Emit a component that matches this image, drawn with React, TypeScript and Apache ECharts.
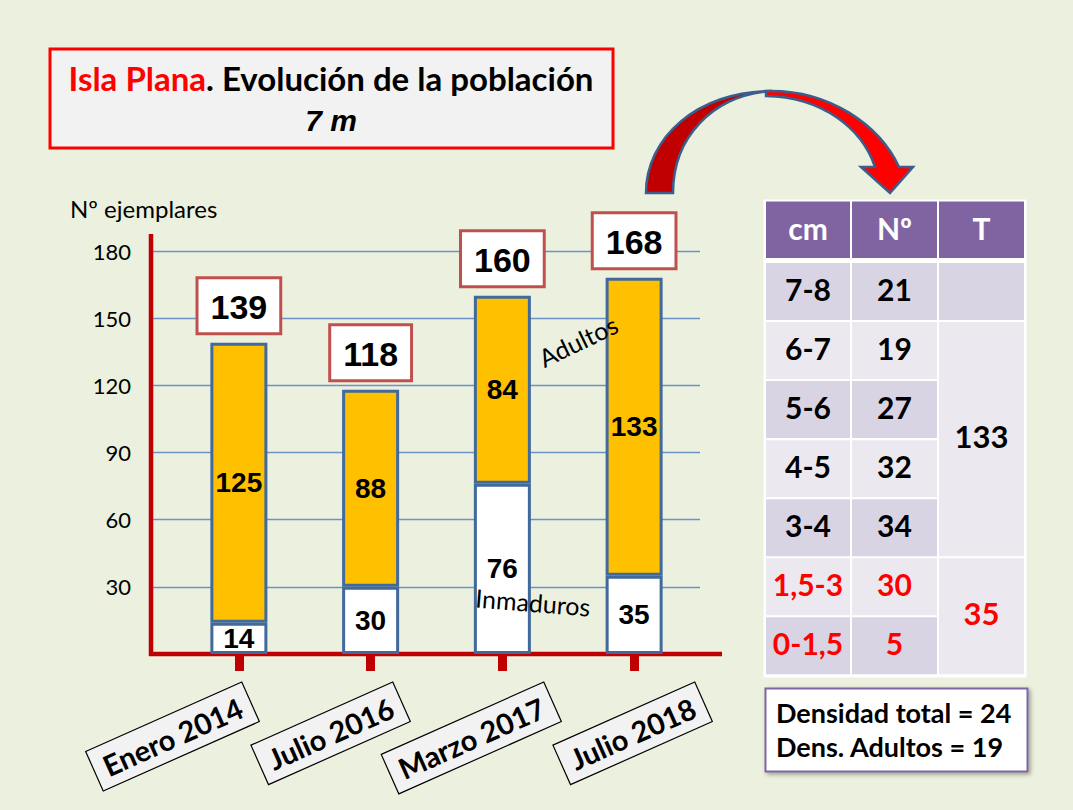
import React, { useEffect, useRef } from "react";
import * as echarts from "echarts";

// ---- Chart data ----
const categories = ["Enero 2014", "Julio 2016", "Marzo 2017", "Julio 2018"];
const immatureValues = [14, 30, 76, 35];
const adultValues = [125, 88, 84, 133];
const totalValues = [139, 118, 160, 168];
const yMax = 180;
const yInterval = 30;

// ---- Table data ----
const tableHeaders = ["cm", "Nº", "T"];
const sizeClasses = ["7-8", "6-7", "5-6", "4-5", "3-4", "1,5-3", "0-1,5"];
const classCounts = [21, 19, 27, 32, 34, 30, 5];
const groupTotals = ["", "133", "35"];
const groupRowSpans = [[0, 0], [1, 4], [5, 6]];
const densityLines = ["Densidad total = 24", "Dens. Adultos = 19"];

const CAL = 'Lato, "Noto Sans", "Open Sans", sans-serif';
const NARROW = '"Liberation Sans Narrow", "Liberation Sans", Arial, sans-serif';
const ARIAL = '"Liberation Sans", Arial, sans-serif';

const backPath = "M646 193 C646 138 697 91 772 91 C712 95 673 138 673 193 Z";
const frontPath = "M766 91 C830 89 880 126 899 167 L913 167 L890 193 L861 167 L875 167 C862 128 822 97 766 96 Z";

let shapesRegistered = false;
function registerShapes() {
  if (shapesRegistered) return;
  echarts.graphic.registerShape("arrowBack", echarts.graphic.extendPath(backPath, {}));
  echarts.graphic.registerShape("arrowFront", echarts.graphic.extendPath(frontPath, {}));
  shapesRegistered = true;
}

function txt(text: string, x: number, y: number, opts: any = {}) {
  const { align = "center", vAlign = "middle", rotation = 0, z = 10, ...style } = opts;
  return {
    type: "text",
    x,
    y,
    rotation,
    z,
    style: {
      text,
      x: 0,
      y: 0,
      align,
      verticalAlign: vAlign,
      textAlign: align,
      textVerticalAlign: vAlign,
      ...style,
    },
  };
}

function buildTable() {
  const els: any[] = [];
  const colX = [766, 852, 939];
  const colW = [84, 85, 85];
  const headY = 201.5;
  const headH = 56.5;
  const rowY0 = 263;
  const pitch = 59.05;
  const cellH = 57;
  const dark = "#D8D4E3";
  const light = "#EBE9EF";
  const fs = 30;
  els.push({ type: "rect", shape: { x: 763.5, y: 199.5, width: 263, height: 478 }, style: { fill: "#FFFFFF" }, z: 5 });
  tableHeaders.forEach((h, c) => {
    els.push({ type: "rect", shape: { x: colX[c], y: headY, width: colW[c], height: headH }, style: { fill: "#8064A2" }, z: 6 });
    els.push(txt(h, colX[c] + colW[c] / 2, headY + headH / 2 - 2, { fill: "#FFFFFF", fontSize: fs, fontWeight: "bold", fontFamily: CAL }));
  });
  sizeClasses.forEach((s, r) => {
    const y = rowY0 + r * pitch;
    const fill = r % 2 === 0 ? dark : light;
    const color = r >= 5 ? "#FF0000" : "#000000";
    for (let c = 0; c < 2; c++) {
      els.push({ type: "rect", shape: { x: colX[c], y, width: colW[c], height: cellH }, style: { fill }, z: 6 });
    }
    els.push(txt(s, colX[0] + colW[0] / 2, y + cellH / 2 - 3, { fill: color, fontSize: fs, fontWeight: "bold", fontFamily: CAL }));
    els.push(txt(String(classCounts[r]), colX[1] + colW[1] / 2, y + cellH / 2 - 3, { fill: color, fontSize: fs, fontWeight: "bold", fontFamily: CAL }));
  });
  groupRowSpans.forEach(([a, b], g) => {
    const y = rowY0 + a * pitch;
    const h = (b - a) * pitch + cellH;
    const fill = g === 0 ? dark : light;
    els.push({ type: "rect", shape: { x: colX[2], y, width: colW[2], height: h }, style: { fill }, z: 6 });
    if (groupTotals[g]) {
      els.push(txt(groupTotals[g], colX[2] + colW[2] / 2, y + h / 2 - 3, {
        fill: g === 2 ? "#FF0000" : "#000000", fontSize: 31, fontWeight: "bold", fontFamily: CAL,
      }));
    }
  });
  // density box
  els.push({
    type: "rect",
    shape: { x: 765.5, y: 688.5, width: 262, height: 83 },
    style: { fill: "#FFFFFF", stroke: "#8064A2", lineWidth: 2, shadowBlur: 4, shadowColor: "rgba(0,0,0,0.35)", shadowOffsetX: 2, shadowOffsetY: 2 },
    z: 6,
  });
  densityLines.forEach((l, i) => {
    els.push(txt(l, 776, 712 + i * 34, { align: "left", fill: "#000000", fontSize: 27, fontWeight: "bold", fontFamily: CAL }));
  });
  return els;
}

export default function App() {
  const ref = useRef<HTMLDivElement>(null);
  useEffect(() => {
    if (!ref.current) return;
    registerShapes();
    const chart = echarts.init(ref.current, null, { renderer: "svg" });
    const barBorder = { borderColor: "#42699B", borderWidth: 3 };
    const inLabel = { show: true, position: "inside", color: "#000", fontSize: 28, fontWeight: "bold", fontFamily: NARROW, textBorderWidth: 0 };
    const gridTop = 251;
    const gridH = 403;
    chart.setOption({
      animation: false,
      backgroundColor: "#EBF1DE",
      grid: [
        { left: 151, top: gridTop, width: 549, height: gridH },
        { left: 173, top: gridTop, width: 527, height: gridH },
        { left: 250, top: gridTop, width: 453, height: gridH },
      ],
      xAxis: [
        { gridIndex: 0, type: "category", data: categories, show: false },
        {
          gridIndex: 1, type: "category", data: categories,
          axisLine: { show: false },
          axisTick: { show: true, alignWithLabel: true, interval: 0, length: 17, lineStyle: { color: "#C00000", width: 9 } },
          axisLabel: { show: false, interval: 0 },
        },
        {
          gridIndex: 2, type: "category", data: categories, boundaryGap: false,
          axisLine: { show: false }, axisTick: { show: false },
          axisLabel: {
            interval: 0, rotate: 24, margin: 48,
            fontFamily: CAL, fontSize: 29, fontWeight: "bold", color: "#000",
            backgroundColor: "#F2F2F2", borderColor: "#000", borderWidth: 1.2, padding: [7, 10, 6, 10],
          },
        },
      ],
      yAxis: [
        {
          gridIndex: 0, type: "value", min: 0, max: yMax, interval: yInterval,
          axisLine: { show: false }, axisTick: { show: false },
          axisLabel: { showMinLabel: false, margin: 20, fontFamily: CAL, fontSize: 22, color: "#000" },
          splitLine: { lineStyle: { color: "#6B93C6", width: 1.3 } },
        },
        { gridIndex: 1, type: "value", min: 0, max: yMax, interval: yInterval, show: false, splitLine: { show: false } },
        { gridIndex: 2, type: "value", min: 0, max: yMax, interval: yInterval, show: false, splitLine: { show: false } },
      ],
      series: [
        {
          name: "Inmaduros", type: "bar", stack: "pop", xAxisIndex: 1, yAxisIndex: 1,
          data: immatureValues, barWidth: 57,
          itemStyle: { color: "#FFFFFF", ...barBorder }, label: inLabel,
        },
        {
          name: "Adultos", type: "bar", stack: "pop", xAxisIndex: 1, yAxisIndex: 1,
          data: adultValues, barWidth: 57,
          itemStyle: { color: "#FFC000", ...barBorder }, label: inLabel,
        },
        {
          name: "Total", type: "scatter", xAxisIndex: 1, yAxisIndex: 1,
          data: totalValues, symbol: "rect", symbolSize: 1, itemStyle: { color: "rgba(0,0,0,0)" },
          label: {
            show: true, position: "top", distance: 10, color: "#000000", opacity: 1,
            textBorderWidth: 0, textBorderColor: "transparent",
            fontFamily: ARIAL, fontSize: 34, fontWeight: "bold",
            backgroundColor: "#FFFFFF", borderColor: "#C0504D", borderWidth: 3, padding: [11, 12, 8, 12],
          },
          z: 5,
        },
      ],
      graphic: [
        { type: "line", shape: { x1: 151, y1: 234, x2: 151, y2: 656 }, style: { stroke: "#C00000", lineWidth: 4.5 }, z: 1 },
        { type: "line", shape: { x1: 149, y1: 654, x2: 722, y2: 654 }, style: { stroke: "#C00000", lineWidth: 4.5 }, z: 1 },
        txt("Nº ejemplares", 70, 208, { align: "left", fill: "#000", fontSize: 24, fontFamily: CAL }),
        {
          type: "rect", shape: { x: 50, y: 49, width: 563, height: 99 },
          style: { fill: "#F2F2F2", stroke: "#FF0000", lineWidth: 3 }, z: 5,
        },
        txt("{r|Isla Plana}{k|. Evolución de la población}", 331, 78, {
          fontSize: 33, fontWeight: "bold", fontFamily: CAL,
          rich: {
            r: { fill: "#FF0000", color: "#FF0000", fontSize: 33, fontWeight: "bold", fontFamily: CAL },
            k: { fill: "#000000", color: "#000000", fontSize: 33, fontWeight: "bold", fontFamily: CAL },
          },
        }),
        txt("7 m", 331, 120, { fill: "#000", fontSize: 30, fontWeight: "bold", fontStyle: "italic", fontFamily: ARIAL }),
        txt("Adultos", 578, 341, { fill: "#000", fontSize: 25, fontFamily: CAL, rotation: 0.45 }),
        txt("Inmaduros", 533, 602, { fill: "#000", fontSize: 25, fontFamily: CAL, rotation: -0.08 }),
        { type: "arrowBack", style: { fill: "#C00000", stroke: "#3B5E8C", lineWidth: 2.5 }, z: 4 },
        { type: "arrowFront", style: { fill: "#FF0000", stroke: "#3B5E8C", lineWidth: 2.5 }, z: 4 },
        ...buildTable(),
      ],
    });
    return () => chart.dispose();
  }, []);
  return <div ref={ref} style={{ position: "absolute", left: 0, top: 0, width: 1073, height: 810 }} />;
}
